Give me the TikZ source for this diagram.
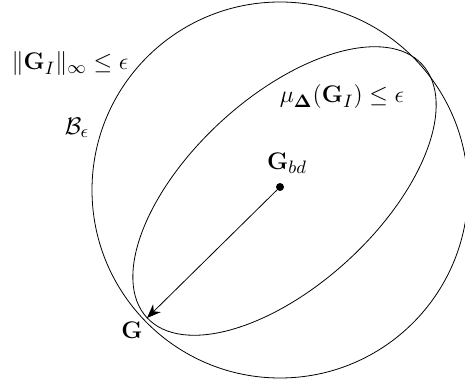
\documentclass[tikz,border=0pt]{standalone}
\usepackage{amsmath,amssymb,bm}
\usepackage{tikz}
\usetikzlibrary{positioning,arrows.meta}

\begin{document}
\begin{tikzpicture}[x=0.5pt,y=0.5pt,font=\fontsize{13.2}{16}\selectfont,
  lbl/.style={inner sep=1pt},
  dotnode/.style={circle,fill=black,inner sep=0pt,minimum size=4pt}]
\useasboundingbox (0,0) rectangle (465,380);
\clip (0,0) rectangle (465,380);
% ball and structured set
\draw[thin] (280,190) circle (188);
\draw[thin,rotate around={42.6:(284.5,189)}] (284.5,189) ellipse (187 and 94);
\node[dotnode] (bd) at (280,193) {};
\coordinate (Gpt) at (147,62);
\node[lbl] (bdlabel) at (287,217) {$\mathbf{G}_{bd}$};
\node[lbl] (Glabel) at (132,50) {$\mathbf{G}$};
\node[lbl] (norm) at (70,316) {$\|\mathbf{G}_I\|_\infty \leq \epsilon$};
\node[lbl] (ball) at (77,252) {$\mathcal{B}_\epsilon$};
\node[lbl] (mu) at (342,283) {$\mu_{\bm{\Delta}}(\mathbf{G}_I) \leq \epsilon$};
\draw[-{Stealth[length=7pt,width=5.5pt]}] (bd) -- (Gpt);
\end{tikzpicture}
\end{document}
